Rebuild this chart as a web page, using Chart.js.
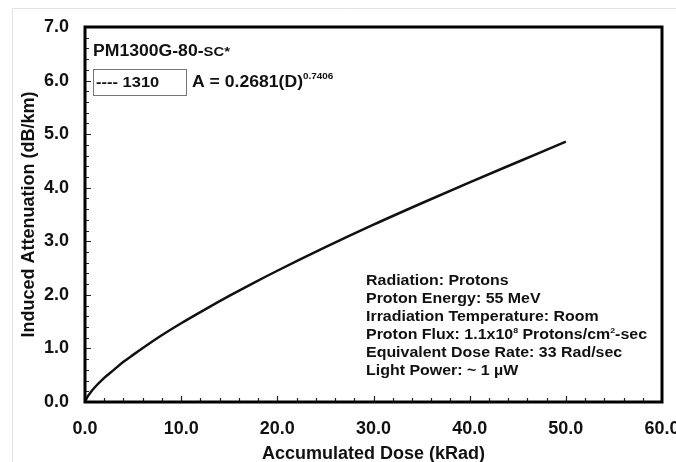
<!DOCTYPE html>
<html>
<head>
<style>
  html, body { margin: 0; padding: 0; overflow: hidden; background: #fff; }
  #wrap { width: 676px; height: 476px; }
</style>
</head>

<body>

<div id="wrap">
  <canvas id="myChart"></canvas>
</div>

<script src="https://cdn.jsdelivr.net/npm/chart.js"></script>

<script>
  // values (1310 nm)
  const dose = [0, 0.25, 0.5, 1, 2, 3, 4, 5, 7.5, 10, 12.5, 15, 17.5, 20, 25, 30, 35, 40, 45, 50];
  const atten = [0, 0.095, 0.16, 0.27, 0.45, 0.60, 0.75, 0.88, 1.19, 1.47, 1.73, 1.98, 2.22, 2.45, 2.89, 3.31, 3.71, 4.10, 4.48, 4.86];
  const xTicks = [0, 10, 20, 30, 40, 50, 60];
  const yTicks = [0, 1, 2, 3, 4, 5, 6, 7];

  const FONT = '"Liberation Sans", Arial, sans-serif';

  // draws a line of text made of runs [text, size, raise], slightly widened
  function drawRuns(ctx, x, y, parts, stretch) {
    stretch = stretch || 1.1;
    ctx.save();
    ctx.translate(x, y);
    ctx.scale(stretch, 1);
    let cx = 0;
    parts.forEach(function (p) {
      ctx.font = 'bold ' + p[1] + 'px ' + FONT;
      ctx.fillText(p[0], cx, -(p[2] || 0));
      cx += ctx.measureText(p[0]).width;
    });
    ctx.restore();
  }

  const frame = {
    id: 'frame',
    beforeDraw(chart) {
      const ctx = chart.ctx;
      ctx.save();
      ctx.strokeStyle = '#e2e2e2';
      ctx.lineWidth = 1;
      ctx.beginPath();
      ctx.moveTo(12.5, 470);
      ctx.lineTo(12.5, 8.5);
      ctx.lineTo(676, 8.5);
      ctx.stroke();
      ctx.restore();
    },
    afterDraw(chart) {
      const ctx = chart.ctx;
      const a = chart.chartArea;
      const xs = chart.scales.x, ys = chart.scales.y;
      ctx.save();
      // inner ticks
      ctx.strokeStyle = '#222';
      ctx.lineWidth = 1.2;
      ctx.beginPath();
      for (let v = 2; v < 60; v += 2) {
        const px = Math.round(xs.getPixelForValue(v)) + 0.5;
        const len = v % 10 === 0 ? 6 : 4;
        ctx.moveTo(px, a.bottom);
        ctx.lineTo(px, a.bottom - len);
      }
      for (let i = 1; i < 35; i++) {
        const v = i * 0.2;
        const py = Math.round(ys.getPixelForValue(v)) + 0.5;
        const len = i % 5 === 0 ? 6 : 4;
        ctx.moveTo(a.left, py);
        ctx.lineTo(a.left + len, py);
      }
      ctx.stroke();
      // plot frame
      ctx.strokeStyle = '#000';
      ctx.lineWidth = 3;
      ctx.strokeRect(a.left, a.top, a.right - a.left, a.bottom - a.top);

      // texts
      ctx.fillStyle = '#111';
      ctx.textBaseline = 'alphabetic';
      drawRuns(ctx, 93, 56, [['PM1300G-80-', 16], ['SC*', 13.5]]);

      ctx.strokeStyle = '#777';
      ctx.lineWidth = 1;
      ctx.strokeRect(93.5, 69.5, 93, 26);
      drawRuns(ctx, 96, 87, [['---- 1310', 15]]);
      drawRuns(ctx, 192, 87, [['A = 0.2681(D)', 16], ['0.7406', 9, 8]]);

      const lx = 366;
      drawRuns(ctx, lx, 285, [['Radiation: Protons', 14.5]]);
      drawRuns(ctx, lx, 303, [['Proton Energy: 55 MeV', 14.5]]);
      drawRuns(ctx, lx, 321, [['Irradiation Temperature: Room', 14.5]]);
      drawRuns(ctx, lx, 339, [['Proton Flux: 1.1x10', 14.5], ['8', 8, 6], [' Protons/cm', 14.5], ['2', 8, 6], ['-sec', 14.5]]);
      drawRuns(ctx, lx, 357, [['Equivalent Dose Rate: 33 Rad/sec', 14.5]]);
      drawRuns(ctx, lx, 375, [['Light Power: ~ 1 \u00b5W', 14.5]]);
      ctx.restore();
    }
  };

  const data = {
    datasets: [{
      label: '1310',
      data: dose.map(function (d, i) { return { x: d, y: atten[i] }; }),
      borderColor: '#111',
      borderWidth: 2.5,
      pointRadius: 0,
      fill: false,
      cubicInterpolationMode: 'monotone'
    }]
  };

  const config = {
    type: 'line',
    data: data,
    plugins: [frame],
    options: {
      responsive: true,
      maintainAspectRatio: false,
      devicePixelRatio: 1,
      animation: false,
      layout: { autoPadding: false, padding: { top: 27, right: 14, left: 0, bottom: 0 } },
      plugins: { legend: { display: false }, tooltip: { enabled: false } },
      scales: {
        x: {
          type: 'linear',
          min: 0,
          max: 60,
          afterBuildTicks: function (s) { s.ticks = xTicks.map(function (v) { return { value: v }; }); },
          afterFit: function (s) { s.height = 74; s.paddingLeft = 0; s.paddingRight = 0; },
          grid: { display: false, drawTicks: false },
          border: { display: false },
          ticks: {
            padding: 16,
            color: '#111',
            maxRotation: 0,
            font: { family: FONT, size: 18, weight: 'bold' },
            callback: function (v) { return v.toFixed(1); }
          },
          title: {
            display: true,
            text: 'Accumulated Dose (kRad)',
            color: '#111',
            padding: { top: 0, bottom: 11 },
            font: { family: FONT, size: 18, weight: 'bold' }
          }
        },
        y: {
          min: 0,
          max: 7,
          afterBuildTicks: function (s) { s.ticks = yTicks.map(function (v) { return { value: v }; }); },
          afterFit: function (s) { s.width = 85; s.paddingTop = 0; s.paddingBottom = 0; },
          grid: { display: false, drawTicks: false },
          border: { display: false },
          ticks: {
            padding: 16,
            color: '#111',
            font: { family: FONT, size: 18, weight: 'bold' },
            callback: function (v) { return v.toFixed(1); }
          },
          title: {
            display: true,
            text: 'Induced Attenuation (dB/km)',
            color: '#111',
            padding: { top: 18, bottom: 0 },
            font: { family: FONT, size: 18, weight: 'bold' }
          }
        }
      }
    }
  };

  const myChart = new Chart(document.getElementById('myChart'), config);
</script>

</body>
</html>
